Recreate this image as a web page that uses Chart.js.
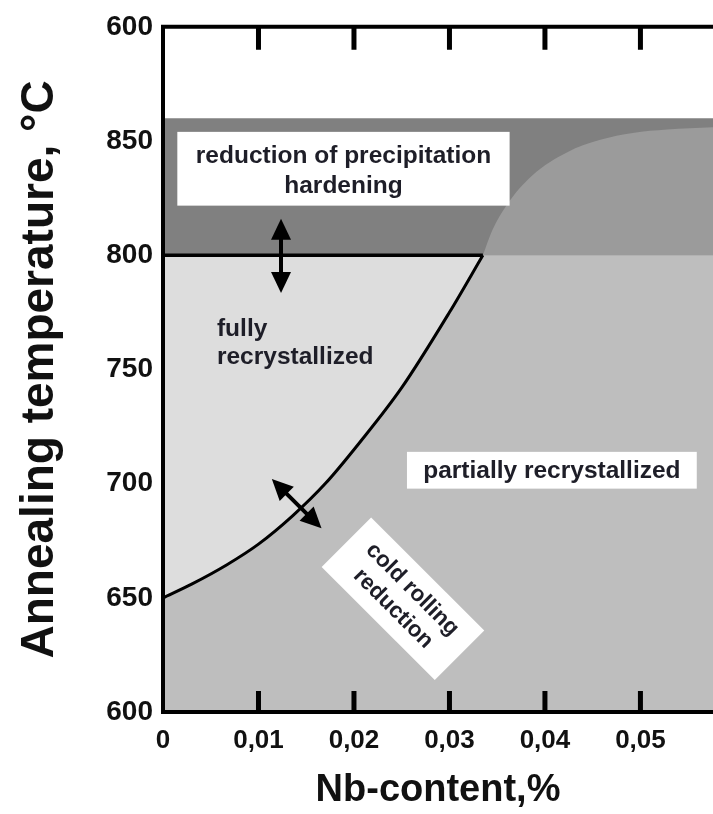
<!DOCTYPE html>
<html>
<head>
<meta charset="utf-8">
<script src="https://cdn.jsdelivr.net/npm/chart.js@4.4.1/dist/chart.umd.min.js"></script>
<style>
  html, body { margin: 0; padding: 0; background: #fff; }
</style>
</head>
<body>
<canvas id="myChart" width="713" height="814"></canvas>
<script>

// boundary fully / partially recrystallized
const nbBoundary = [0, 0.003, 0.0067, 0.010, 0.0136, 0.017, 0.0206, 0.025, 0.030, 0.0335];
const tempBoundary = [650, 656, 664.5, 673.5, 686, 700, 718, 742, 775, 800];

// lighter arc inside the precipitation band
const nbArc = [0.0335, 0.0345, 0.0360, 0.0387, 0.0423, 0.0458, 0.0492, 0.0528, 0.0576];
const tempArc = [800, 811, 822, 835, 845, 850.5, 853.5, 855, 856];

// precipitation band
const bandNb = [0, 0.0576];
const bandTop = [860, 860];
const bandBase = 800;

// horizontal 800 line up to the boundary
const lineNb = [0, 0.0335];
const lineTemp = [800, 800];

const xTicks = [0, 0.01, 0.02, 0.03, 0.04, 0.05];
const xTickLabels = ["0", "0,01", "0,02", "0,03", "0,04", "0,05"];
const yTicks = [600, 650, 700, 750, 800, 850, 900];
const yTickLabels = ["600", "650", "700", "750", "800", "850", "600"];

const nbMin = 0, nbMax = 0.0576;
const tempMin = 600, tempMax = 900;

function pts(xs, ys) {
  return xs.map((x, i) => ({ x: x, y: ys[i] }));
}

const font = "'Liberation Sans', Arial, sans-serif";
const textColor = "#1e1e28";

// annotations in data units
const notes = {
  hardBox: { x1: 0.0015, x2: 0.0363, y1: 854, y2: 821.7, lines: ["reduction of precipitation", "hardening"] },
  partBox: { x1: 0.02555, x2: 0.0559, y1: 713.9, y2: 697.8, lines: ["partially recrystallized"] },
  coldBox: { x: 0.02513, y: 649.6, lines: ["cold rolling", "reduction"] },
  fully: { x: 0.00565, y: [767.4, 755.2], lines: ["fully", "recrystallized"] },
  arrowV: { x1: 0.01236, y1: 816, x2: 0.01236, y2: 783.5 },
  arrowD: { x1: 0.0114, y1: 702, x2: 0.0166, y2: 680.4 }
};

function arrow(ctx, x1, y1, x2, y2) {
  const ang = Math.atan2(y2 - y1, x2 - x1);
  const len = 21, half = 10;
  ctx.strokeStyle = "#000";
  ctx.fillStyle = "#000";
  ctx.lineWidth = 4;
  ctx.beginPath();
  ctx.moveTo(x1 + Math.cos(ang) * 10, y1 + Math.sin(ang) * 10);
  ctx.lineTo(x2 - Math.cos(ang) * 10, y2 - Math.sin(ang) * 10);
  ctx.stroke();
  [[x1, y1, ang + Math.PI], [x2, y2, ang]].forEach(h => {
    const tx = h[0], ty = h[1], a = h[2];
    const bx = tx - Math.cos(a) * len, by = ty - Math.sin(a) * len;
    ctx.beginPath();
    ctx.moveTo(tx, ty);
    ctx.lineTo(bx + Math.cos(a + Math.PI / 2) * half, by + Math.sin(a + Math.PI / 2) * half);
    ctx.lineTo(bx - Math.cos(a + Math.PI / 2) * half, by - Math.sin(a + Math.PI / 2) * half);
    ctx.closePath();
    ctx.fill();
  });
}

const decor = {
  id: "decor",
  afterDraw(chart) {
    const ctx = chart.ctx;
    const xs = chart.scales.x, ys = chart.scales.y;
    const area = chart.chartArea;
    ctx.save();

    // top frame line
    ctx.strokeStyle = "#000";
    ctx.lineWidth = 4;
    ctx.beginPath();
    ctx.moveTo(area.left - 2, area.top);
    ctx.lineTo(area.right, area.top);
    ctx.stroke();

    // inward tick marks top and bottom
    ctx.lineWidth = 5;
    xTicks.forEach(v => {
      if (v === 0) return;
      const px = xs.getPixelForValue(v);
      ctx.beginPath();
      ctx.moveTo(px, area.bottom);
      ctx.lineTo(px, area.bottom - 21);
      ctx.moveTo(px, area.top);
      ctx.lineTo(px, area.top + 23);
      ctx.stroke();
    });

    // white boxes
    ctx.fillStyle = "#fff";
    const hb = notes.hardBox;
    let bx1 = xs.getPixelForValue(hb.x1), bx2 = xs.getPixelForValue(hb.x2);
    let by1 = ys.getPixelForValue(hb.y1), by2 = ys.getPixelForValue(hb.y2);
    ctx.fillRect(bx1, by1, bx2 - bx1, by2 - by1);
    ctx.fillStyle = textColor;
    ctx.font = "bold 24.5px " + font;
    ctx.textAlign = "center";
    ctx.textBaseline = "middle";
    ctx.fillText(hb.lines[0], (bx1 + bx2) / 2, by1 + 24);
    ctx.fillText(hb.lines[1], (bx1 + bx2) / 2, by1 + 54);

    const pb = notes.partBox;
    bx1 = xs.getPixelForValue(pb.x1); bx2 = xs.getPixelForValue(pb.x2);
    by1 = ys.getPixelForValue(pb.y1); by2 = ys.getPixelForValue(pb.y2);
    ctx.fillStyle = "#fff";
    ctx.fillRect(bx1, by1, bx2 - bx1, by2 - by1);
    ctx.fillStyle = textColor;
    ctx.fillText(pb.lines[0], (bx1 + bx2) / 2, (by1 + by2) / 2 + 1);

    // rotated cold rolling box
    const cb = notes.coldBox;
    ctx.save();
    ctx.translate(xs.getPixelForValue(cb.x), ys.getPixelForValue(cb.y));
    ctx.rotate(Math.PI / 4);
    ctx.fillStyle = "#fff";
    ctx.fillRect(-80, -35, 160, 70);
    ctx.fillStyle = textColor;
    ctx.font = "bold 22.5px " + font;
    ctx.fillText(cb.lines[0], 0, -13);
    ctx.fillText(cb.lines[1], 0, 14);
    ctx.restore();

    // fully recrystallized
    const fl = notes.fully;
    ctx.textAlign = "left";
    ctx.font = "bold 24.5px " + font;
    ctx.fillText(fl.lines[0], xs.getPixelForValue(fl.x), ys.getPixelForValue(fl.y[0]));
    ctx.fillText(fl.lines[1], xs.getPixelForValue(fl.x), ys.getPixelForValue(fl.y[1]));

    // arrows
    [notes.arrowV, notes.arrowD].forEach(a => {
      arrow(ctx, xs.getPixelForValue(a.x1), ys.getPixelForValue(a.y1),
        xs.getPixelForValue(a.x2), ys.getPixelForValue(a.y2));
    });

    ctx.restore();
  }
};

let myChart = document.getElementById("myChart").getContext("2d");

let chart = new Chart(myChart, {
  type: "line",
  data: {
    datasets: [
      {
        label: "boundary",
        data: pts(nbBoundary, tempBoundary),
        borderColor: "#000",
        borderWidth: 3,
        fill: false,
        cubicInterpolationMode: "monotone"
      },
      {
        label: "800 line",
        data: pts(lineNb, lineTemp),
        borderColor: "#000",
        borderWidth: 3.5,
        fill: false
      },
      {
        label: "fully recrystallized",
        data: pts(nbBoundary, tempBoundary),
        borderWidth: 0,
        borderColor: "rgba(0,0,0,0)",
        backgroundColor: "#dddddd",
        fill: { value: bandBase },
        cubicInterpolationMode: "monotone"
      },
      {
        label: "arc",
        data: pts(nbArc, tempArc),
        borderWidth: 0,
        borderColor: "rgba(0,0,0,0)",
        backgroundColor: "#9b9b9b",
        fill: { value: bandBase },
        cubicInterpolationMode: "monotone"
      },
      {
        label: "band",
        data: pts(bandNb, bandTop),
        borderWidth: 0,
        borderColor: "rgba(0,0,0,0)",
        backgroundColor: "#808080",
        fill: { value: bandBase }
      },
      {
        label: "partially recrystallized",
        data: pts(bandNb, [bandBase, bandBase]),
        borderWidth: 0,
        borderColor: "rgba(0,0,0,0)",
        backgroundColor: "#bebebe",
        fill: "start"
      }
    ]
  },
  options: {
    responsive: false,
    animation: false,
    events: [],
    layout: { padding: { top: 20, right: 0, bottom: 0, left: 0 } },
    elements: { point: { radius: 0 } },
    plugins: {
      legend: { display: false },
      tooltip: { enabled: false }
    },
    scales: {
      x: {
        type: "linear",
        min: nbMin,
        max: nbMax,
        afterBuildTicks: s => { s.ticks = xTicks.map(v => ({ value: v })); },
        afterFit: s => { s.height = 102; },
        grid: { display: false, drawTicks: false },
        border: { display: true, color: "#000", width: 4, z: 1 },
        ticks: {
          padding: 13,
          color: "#111",
          font: { family: font, size: 26, weight: "bold" },
          maxRotation: 0,
          callback: v => xTickLabels[xTicks.indexOf(v)]
        },
        title: {
          display: true,
          text: "Nb-content,%",
          color: "#111",
          font: { family: font, size: 38, weight: "bold" },
          padding: { top: 0, bottom: 1 }
        }
      },
      y: {
        type: "linear",
        min: tempMin,
        max: tempMax,
        afterBuildTicks: s => { s.ticks = yTicks.map(v => ({ value: v })); },
        afterFit: s => { s.width = 163; },
        grid: { display: false, drawTicks: false },
        border: { display: true, color: "#000", width: 4, z: 1 },
        ticks: {
          padding: 10,
          color: "#111",
          font: { family: font, size: 28, weight: "bold" },
          callback: v => yTickLabels[yTicks.indexOf(v)]
        },
        title: {
          display: true,
          text: "Annealing temperature, °C",
          color: "#111",
          font: { family: font, size: 46, weight: "bold" },
          padding: { top: 13, bottom: 0 }
        }
      }
    }
  },
  plugins: [decor]
});

</script>
</body>
</html>
